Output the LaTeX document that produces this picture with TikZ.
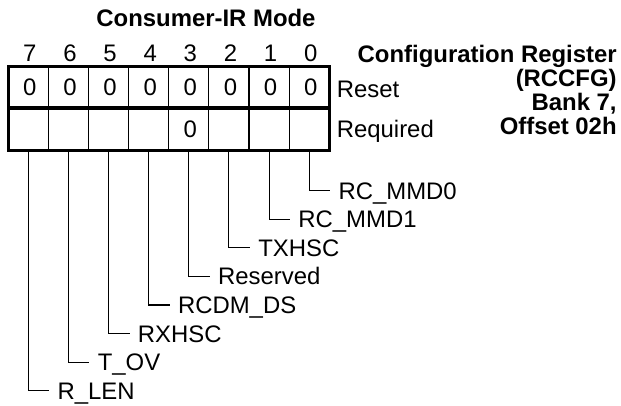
\documentclass[tikz,border=0pt]{standalone}
\usepackage{fontspec}
\setmainfont{Liberation Sans}
\usetikzlibrary{positioning,calc}

\tikzset{
  bitnum/.style={anchor=base,inner sep=0pt},
  fieldlbl/.style={anchor=west,inner xsep=0.16cm,inner ysep=0pt,
    text height=9.7pt,text depth=0pt},
  thinrule/.style={line width=0.6pt},
  thickrule/.style={line width=1.9pt},
}

\begin{document}
\begin{tikzpicture}[line join=miter,font=\fontsize{13.6}{15.6}\selectfont]
    \useasboundingbox (0,0) rectangle (12.42,8.12);
    % ============ Title ============
    \node[font=\fontsize{13.6}{15.6}\selectfont\bfseries,anchor=base] (title) at (4.12,7.58)
      {Consumer-IR Mode};
    % ============ Bit numbers, reset values, column feet ============
    \foreach \b in {0,...,7}{
      \pgfmathsetmacro{\xc}{0.165+(7-\b+0.5)*0.8025}
      \node[bitnum] (num\b) at (\xc+0.03,6.886) {\b};
      \node (rst\b) at (\xc+0.03,6.375) {0};
      \coordinate (bot\b) at (\xc,5.11);
    }
    \node (req3) at ($(rst3)+(0,-0.84)$) {0};
    % ============ Register grid ============
    \foreach \c in {1,...,7}
      \draw[thinrule] ({0.165+\c*0.8025},6.79) -- ({0.165+\c*0.8025},5.11);
    \draw[thickrule] (0.165,5.96) -- (6.585,5.96);
    \draw[thickrule] (0.165,6.79) rectangle (6.585,5.11);
    % ============ Row labels ============
    \node[anchor=base west,inner sep=0pt] (reset) at (6.73,6.16) {Reset};
    \node[anchor=base west,inner sep=0pt] (required) at (6.73,5.36) {Required};
    % ============ Register name (base = last line) ============
    \node[font=\fontsize{13.6}{13.66}\selectfont\bfseries,align=right,anchor=base east,inner sep=0pt]
      (regname) at (12.34,5.42)
      {Configuration Register\\(RCCFG)\\Bank 7,\\Offset 02h};
    % ============ Field leaders ============
    \foreach \b/\f in {0/RC\_MMD0,1/RC\_MMD1,2/TXHSC,3/Reserved,
                       4/RCDM\_DS,5/RXHSC,6/T\_OV,7/R\_LEN}{
      \node[fieldlbl] (fld\b) at ($(bot\b)+(0.42,{-0.804-0.5714*\b})$) {\f};
      \draw[thinrule] (bot\b) |- (fld\b.west);
    }
\end{tikzpicture}
\end{document}
